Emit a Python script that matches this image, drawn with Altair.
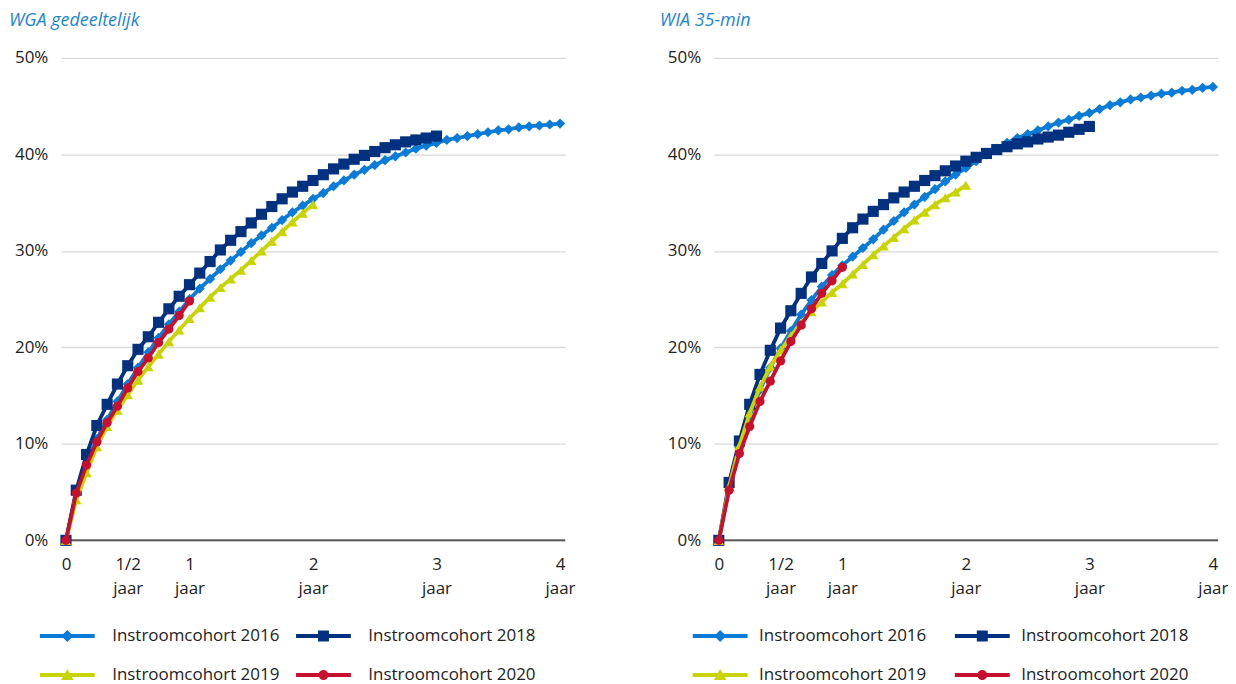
import altair as alt
import pandas as pd

# ---------------- data (percent, monthly points) ----------------
series_names = ["Instroomcohort 2016", "Instroomcohort 2018", "Instroomcohort 2019", "Instroomcohort 2020"]

wga_2016 = [0, 4.9, 8.0, 10.5, 12.5, 14.4, 16.2, 17.9, 19.5, 21.0, 22.4, 23.7, 25.0, 26.1, 27.1, 28.1,
            29.0, 29.9, 30.8, 31.6, 32.4, 33.2, 34.0, 34.7, 35.4, 36.0, 36.7, 37.3, 37.9, 38.4, 38.9, 39.4,
            39.8, 40.2, 40.6, 40.9, 41.2, 41.5, 41.7, 41.9, 42.1, 42.3, 42.5, 42.6, 42.8, 42.9, 43.0, 43.1, 43.2]
wga_2018 = [0, 5.2, 8.9, 11.9, 14.1, 16.2, 18.1, 19.8, 21.1, 22.6, 24.0, 25.3, 26.5, 27.7, 28.9, 30.1,
            31.1, 32.0, 32.9, 33.8, 34.6, 35.4, 36.1, 36.7, 37.3, 37.9, 38.5, 39.0, 39.5, 39.9, 40.3, 40.7,
            41.0, 41.3, 41.5, 41.7, 41.9]
wga_2019 = [0, 4.2, 7.0, 9.7, 11.8, 13.5, 15.1, 16.6, 18.0, 19.3, 20.6, 21.8, 23.0, 24.1, 25.2, 26.2,
            27.1, 28.0, 29.0, 30.0, 31.0, 32.0, 33.0, 33.9, 34.8]
wga_2020 = [0, 4.9, 7.8, 10.2, 12.2, 13.9, 15.8, 17.5, 18.9, 20.5, 21.9, 23.3, 24.8]

wia_2016 = [0, 5.5, 9.6, 12.9, 15.6, 17.9, 19.9, 21.7, 23.4, 24.9, 26.3, 27.5, 28.5, 29.4, 30.3, 31.2,
            32.2, 33.1, 34.0, 34.8, 35.6, 36.4, 37.2, 37.9, 38.6, 39.3, 40.0, 40.6, 41.2, 41.7, 42.1, 42.5,
            42.9, 43.3, 43.6, 44.0, 44.3, 44.7, 45.1, 45.4, 45.7, 45.9, 46.1, 46.3, 46.4, 46.6, 46.7, 46.9, 47.0]
wia_2018 = [0, 6.0, 10.3, 14.1, 17.2, 19.7, 22.0, 23.8, 25.6, 27.3, 28.7, 30.0, 31.3, 32.4, 33.3, 34.1,
            34.8, 35.5, 36.1, 36.7, 37.3, 37.8, 38.3, 38.8, 39.3, 39.7, 40.1, 40.5, 40.8, 41.1, 41.3, 41.6,
            41.8, 42.0, 42.3, 42.6, 42.9]
wia_2019 = [0, 5.6, 9.8, 13.2, 15.9, 18.0, 19.7, 21.2, 22.5, 23.7, 24.7, 25.7, 26.6, 27.6, 28.6, 29.6,
            30.5, 31.4, 32.3, 33.2, 34.0, 34.8, 35.5, 36.1, 36.8]
wia_2020 = [0, 5.2, 9.0, 11.8, 14.4, 16.5, 18.6, 20.6, 22.3, 24.0, 25.6, 26.9, 28.3]

x_tick_months = [0, 6, 12, 24, 36, 48]
y_ticks = [0, 0.1, 0.2, 0.3, 0.4, 0.5]

# ---------------- styles ----------------
colors = ["#0a7bd6", "#01317f", "#c8d400", "#c8102e"]
shapes = ["diamond", "square", "triangle-up", "circle"]
sizes = [105, 125, 110, 85]
legend_paths = [
    "M-2.75,-0.2H2.75V0.2H-2.75Z M0,-0.6L0.6,0L0,0.6L-0.6,0Z",
    "M-2.75,-0.2H2.75V0.2H-2.75Z M-0.55,-0.55H0.55V0.55H-0.55Z",
    "M-2.75,-0.2H2.75V0.2H-2.75Z M0,-0.6L0.62,0.5L-0.62,0.5Z",
    "M-2.75,-0.2H2.75V0.2H-2.75Z M-0.5,0A0.5,0.5 0 1,1 0.5,0A0.5,0.5 0 1,1 -0.5,0Z",
]

FONT = "Open Sans"
FS = 17
W, H = 506, 484


def make_df(lists):
    rows = []
    for name, vals in zip(series_names, lists):
        for m, v in enumerate(vals):
            rows.append({"month": m, "value": v / 100.0, "series": name})
    return pd.DataFrame(rows)


def panel(lists, title, title_dx, label_offset, col_pad):
    df = make_df(lists)
    base = alt.Chart(df)
    xenc = alt.X("month:Q",
                 scale=alt.Scale(domain=[-0.5, 48.5], nice=False, zero=False),
                 axis=alt.Axis(values=x_tick_months, grid=False, ticks=False, domain=False,
                               title=None, labelAngle=0, labelFontSize=FS, labelFont=FONT,
                               labelColor="#222222", labelPadding=16, labelLineHeight=24,
                               labelBaseline="top",
                               labelExpr="datum.value == 0 ? '0' : [datum.value == 6 ? '1/2' : format(datum.value/12, 'd'), 'jaar']"))
    yenc = alt.Y("value:Q",
                 scale=alt.Scale(domain=[0, 0.5], nice=False),
                 axis=alt.Axis(values=y_ticks, format=".0%", grid=True, gridColor="#d9d9d9",
                               gridWidth=1.3, ticks=False, domain=False, title=None,
                               labelFontSize=FS, labelFont=FONT, labelColor="#222222",
                               labelPadding=13))
    layers = []
    layers.append(base.mark_point(opacity=0).encode(x=xenc, y=yenc))
    layers.append(alt.Chart(pd.DataFrame({"v": [0.0]})).mark_rule(color="#595959", strokeWidth=2)
                  .encode(y=alt.Y("v:Q")))
    for name, c, sh, sz in zip(series_names, colors, shapes, sizes):
        sub = base.transform_filter(alt.datum.series == name)
        layers.append(sub.mark_line(color=c, strokeWidth=3.8).encode(x="month:Q", y="value:Q"))
        layers.append(sub.mark_point(shape=sh, filled=True, size=sz, color=c, opacity=1)
                      .encode(x="month:Q", y="value:Q"))
    leg = alt.Legend(title=None, orient="none", legendX=-3.5, legendY=570, columns=2,
                     direction="horizontal",
                     symbolSize=400, symbolStrokeWidth=0, labelFont=FONT, labelFontSize=FS,
                     labelColor="#222222", labelOffset=label_offset, labelLimit=400,
                     columnPadding=col_pad, rowPadding=21, symbolOpacity=1)
    layers.append(base.transform_filter("false").mark_point(filled=True, opacity=1).encode(
        x="month:Q", y="value:Q",
        color=alt.Color("series:N", scale=alt.Scale(domain=series_names, range=colors), legend=leg),
        shape=alt.Shape("series:N", scale=alt.Scale(domain=series_names, range=legend_paths), legend=leg),
    ))
    return alt.layer(*layers).properties(
        width=W, height=H,
        title=alt.TitleParams(title, anchor="start", frame="group", dx=title_dx, fontSize=18,
                              font=FONT, fontStyle="italic", fontWeight="normal", color="#1d84d4",
                              offset=19),
    )


left = panel([wga_2016, wga_2018, wga_2019, wga_2020], "WGA gedeeltelijk", -52, 35, 16)
right = panel([wia_2016, wia_2018, wia_2019, wia_2020], "WIA 35-min", -54, 29, 28)

chart = alt.hconcat(left, right, spacing=149, bounds="flush").resolve_scale(
    color="independent", shape="independent").resolve_legend(
    color="independent", shape="independent").properties(
    padding={"left": 1, "top": 3, "right": 0, "bottom": 0}, background="white"
).configure_view(stroke=None, strokeWidth=0)

chart.save("out.html", embed_options={"renderer": "svg", "actions": False})
